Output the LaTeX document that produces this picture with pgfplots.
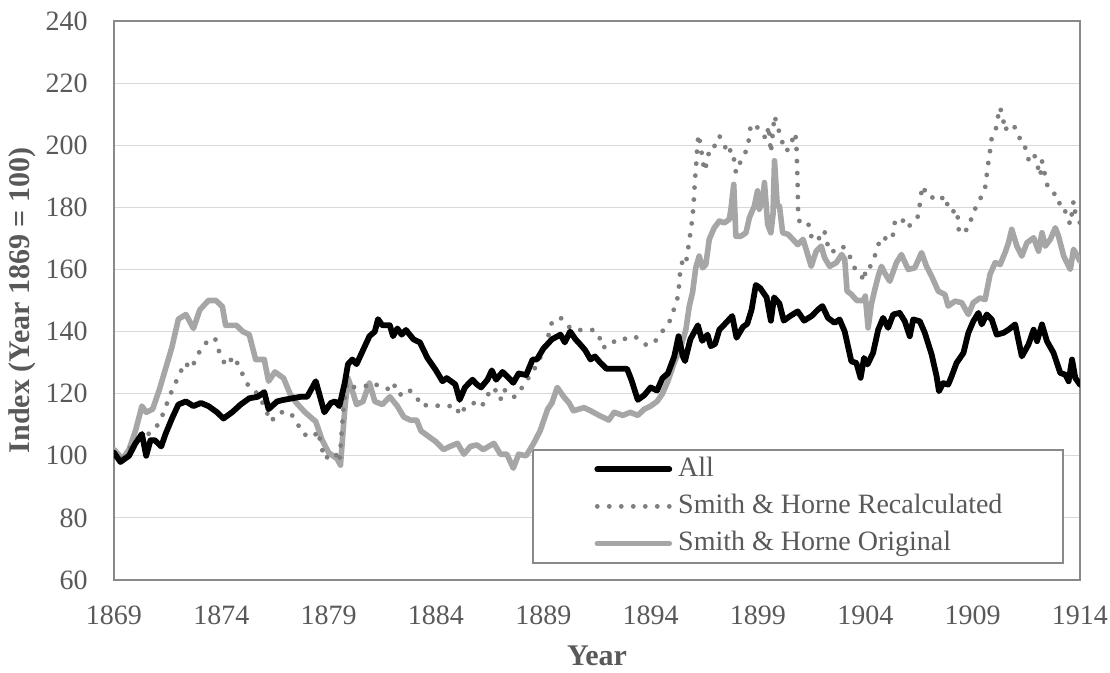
\documentclass[border=0pt]{standalone}
\usepackage{fontspec}
\setmainfont{Liberation Serif}
\usepackage{pgfplots}
\pgfplotsset{compat=1.18}
\definecolor{txtgray}{HTML}{595959}
\definecolor{bordergray}{HTML}{898989}
\definecolor{gridgray}{HTML}{D9D9D9}
\definecolor{origgray}{HTML}{A6A6A6}
\definecolor{dotgray}{HTML}{7F7F7F}
\begin{document}
\begin{tikzpicture}
\useasboundingbox (-57pt,-46.5pt) rectangle (498pt,290pt);
\begin{axis}[
  at={(0pt,0pt)}, anchor=south west,
  scale only axis, width=483pt, height=279.5pt,
  xmin=1869, xmax=1914, ymin=60, ymax=240,
  xtick={1869,1874,1879,1884,1889,1894,1899,1904,1909,1914},
  xticklabels={1869,1874,1879,1884,1889,1894,1899,1904,1909,1914},
  ytick={60,80,...,240},
  major tick length=0pt,
  axis line style={bordergray, line width=0.7pt},
  ymajorgrids, grid style={gridgray, line width=0.6pt},
  /pgf/number format/assume math mode=true,
  /pgf/number format/1000 sep={},
  tick label style={font=\fontsize{14}{16}\selectfont, text=txtgray},
  yticklabel style={anchor=east, inner sep=0pt, xshift=-13pt},
  xticklabel style={anchor=center, inner sep=0pt, yshift=-17.5pt},
  xlabel={Year}, ylabel={Index (Year 1869 = 100)},
  label style={font=\fontsize{15}{17}\selectfont\bfseries, text=txtgray},
  xlabel style={at={(rel axis cs:0.5,0)}, anchor=center, yshift=-38pt},
  ylabel style={at={([xshift=-46pt]rel axis cs:0,0.5)}, anchor=center},
  legend style={at={(rel axis cs:0.4969,0.229)}, anchor=north west, draw=none, fill=none,
    inner sep=0pt, font=\fontsize{14}{16}\selectfont, text=txtgray, row sep=1.5pt, column sep=1pt,
    nodes={inner sep=2pt, text height=10pt, text depth=3pt}},
  legend cell align=left,
  reverse legend,
  legend image code/.code={\draw[#1] (0pt,0pt) -- (36pt,0pt);},
]
\fill[white] (rel axis cs:0.4337,0.0304) rectangle (rel axis cs:0.9824,0.2326);
\draw[bordergray, line width=0.7pt] (rel axis cs:0.4337,0.0304) rectangle (rel axis cs:0.9824,0.2326);
% Smith & Horne Original
\addplot[origgray, line width=2.8pt, line join=round, line cap=round] coordinates {
(1869.0,102) (1869.4,99) (1869.7,102) (1870.0,108) (1870.3,116) (1870.5,114) (1870.8,115)
(1871.1,121) (1871.4,128) (1871.7,135) (1872.0,144) (1872.35,145.5) (1872.7,141) (1873.0,147)
(1873.4,150) (1873.75,150) (1874.05,148) (1874.2,142) (1874.7,142) (1875.0,140) (1875.3,139)
(1875.6,131) (1876.0,131) (1876.2,124) (1876.5,127) (1876.9,125) (1877.2,120) (1877.5,117)
(1877.9,114) (1878.4,111) (1878.7,105) (1879.0,101) (1879.4,99) (1879.55,97) (1879.75,115)
(1879.9,125) (1880.1,121) (1880.3,116.5) (1880.6,117.5) (1880.9,123.5) (1881.15,117.5)
(1881.5,116.5) (1881.85,119) (1882.2,116) (1882.5,112.5) (1882.8,111.5) (1883.1,111.5)
(1883.3,108) (1883.7,106) (1884.0,104.5) (1884.35,102) (1884.65,103) (1885.0,104)
(1885.3,100.5) (1885.6,103) (1885.9,103.5) (1886.2,102) (1886.7,104) (1887.0,100.5)
(1887.3,100.5) (1887.6,96) (1887.85,100.5) (1888.2,100) (1888.55,104) (1888.85,108)
(1889.2,115) (1889.4,117) (1889.65,122) (1889.95,119) (1890.2,117) (1890.4,114.5)
(1890.9,115.5) (1891.2,114.5) (1891.6,113) (1892.05,111.5) (1892.3,114) (1892.7,113)
(1893.05,114) (1893.4,113) (1893.7,115) (1894.0,116) (1894.3,117.5) (1894.55,120)
(1894.8,124) (1895.1,130) (1895.4,135) (1895.64,140.6) (1895.8,148.2) (1895.95,152.5)
(1896.1,160.5) (1896.26,164.3) (1896.42,160.5) (1896.57,161.6) (1896.73,169.7) (1896.96,173.4)
(1897.2,175.6) (1897.43,175) (1897.66,176.1) (1897.74,179.4) (1897.87,187.4) (1897.97,170.7)
(1898.2,170.7) (1898.44,171.8) (1898.6,176.7) (1898.83,180.4) (1898.98,185.3) (1899.06,179.4)
(1899.22,182) (1899.3,188) (1899.45,174.5) (1899.6,171.8) (1899.7,177.7) (1899.77,195)
(1899.9,180.4) (1900.0,180.4) (1900.15,171.8) (1900.4,171.3) (1900.62,169.7) (1900.85,168)
(1901.1,169.7) (1901.24,166.5) (1901.48,161) (1901.71,165.9) (1901.95,167.5) (1902.1,163.8)
(1902.34,161) (1902.65,162.2) (1902.9,164.8) (1903.04,163.2) (1903.15,153) (1903.35,152)
(1903.6,150) (1903.9,150) (1904.0,151.4) (1904.13,141.2) (1904.28,148.7) (1904.44,153.5)
(1904.6,157.8) (1904.75,161) (1904.9,158.9) (1905.14,156.2) (1905.45,162.2) (1905.68,164.8)
(1906.0,160) (1906.3,160.5) (1906.62,165.4) (1906.85,161) (1907.09,157.8) (1907.4,153)
(1907.71,151.9) (1907.86,148.2) (1908.18,149.8) (1908.49,149.3) (1908.8,145.5) (1909.03,149.3)
(1909.34,150.8) (1909.58,150.3) (1909.81,158.4) (1910.05,162.2) (1910.28,161.6) (1910.51,165.4)
(1910.67,168.6) (1910.82,172.9) (1911.06,167.5) (1911.29,164.3) (1911.53,168.6) (1911.84,170.2)
(1912.07,165.9) (1912.23,171.8) (1912.38,167.5) (1912.62,169.7) (1912.85,173.4) (1913.0,170.7)
(1913.24,164.3) (1913.55,160) (1913.7,166.5) (1914.0,162.7)
};
\addlegendentry{Smith \& Horne Original}
% Smith & Horne Recalculated
\addplot[dotgray, line width=2.4pt, line cap=round, dash pattern=on 0pt off 6pt] coordinates {
(1869.0,101) (1869.4,99) (1870.0,105) (1870.3,106) (1870.6,107) (1870.95,109) (1871.2,112)
(1871.5,117.5) (1871.7,121) (1872.0,125.5) (1872.3,130) (1872.6,128) (1872.9,132.5) (1873.2,136)
(1873.7,138) (1873.9,133.5) (1874.2,129) (1874.6,132) (1874.9,127.5) (1875.3,122) (1875.7,120)
(1876.0,116) (1876.3,111) (1876.7,114) (1877.2,114) (1877.5,111) (1877.8,107) (1878.3,106)
(1878.5,108) (1878.8,99) (1879.3,101) (1879.5,98) (1879.7,116) (1879.85,123.5) (1880.1,122)
(1880.45,122.5) (1880.75,122.5) (1881.1,123.5) (1881.4,122) (1881.8,121.5) (1882.0,123.5)
(1882.3,119.5) (1882.7,121.5) (1883.1,119) (1883.3,116) (1883.7,116.5) (1884.2,116)
(1884.65,116) (1884.95,116) (1885.1,113) (1885.35,115.5) (1885.7,116.5) (1885.9,118)
(1886.2,116.5) (1886.45,120) (1886.7,122) (1887.0,118) (1887.15,121.5) (1887.5,119)
(1887.7,119) (1887.95,121.5) (1888.2,123.5) (1888.4,126.5) (1888.7,129) (1889.0,134)
(1889.25,139) (1889.4,143) (1889.8,144.5) (1890.1,142) (1890.4,140.5) (1890.9,140.5)
(1891.3,140.5) (1891.6,139) (1891.7,135) (1892.05,135) (1892.4,137.5) (1892.75,137.5)
(1893.07,138.5) (1893.4,138) (1893.77,135.8) (1894.08,135.8) (1894.4,138.5) (1894.7,141.7)
(1894.94,143.9) (1895.1,147.6) (1895.25,150.8) (1895.33,155.2) (1895.37,158.9) (1895.48,162.7)
(1895.64,161.6) (1895.7,164.8) (1895.8,169.1) (1895.87,172.9) (1895.95,176.7) (1896.0,181)
(1896.03,184.7) (1896.06,188.5) (1896.1,191.7) (1896.18,200.3) (1896.23,203.5) (1896.34,199.2)
(1896.42,195.5) (1896.5,191.7) (1896.65,195) (1896.73,198.7) (1896.88,198.7) (1897.12,201.4)
(1897.2,203) (1897.43,200.3) (1897.58,197.1) (1897.74,198.7) (1897.9,195) (1897.97,191.2)
(1898.13,193.9) (1898.29,196) (1898.52,199.2) (1898.67,206.8) (1898.9,206.2) (1899.14,204.6)
(1899.38,201.9) (1899.5,206.2) (1899.6,197.6) (1899.7,204.6) (1899.77,209.5) (1899.92,205.7)
(1900.08,202.5) (1900.23,198.2) (1900.47,198.7) (1900.7,204) (1900.78,202) (1900.82,193.9)
(1900.85,186.3) (1900.87,178.3) (1900.93,175.6) (1901.16,176.1) (1901.4,174) (1901.48,170.7)
(1901.71,171.8) (1901.87,169.7) (1902.1,172.3) (1902.18,169.1) (1902.41,165.4) (1902.65,166.5)
(1902.96,167.5) (1903.04,165.9) (1903.27,164.3) (1903.5,160.5) (1903.82,157.8) (1903.97,156.2)
(1904.0,160.5) (1904.2,160.5) (1904.44,164.3) (1904.6,168) (1904.83,170.7) (1905.06,169.1)
(1905.3,171.3) (1905.37,175) (1905.68,176.7) (1905.92,173.4) (1906.23,175) (1906.46,177.2)
(1906.54,181) (1906.62,185.3) (1906.7,186.9) (1906.85,183.7) (1907.16,183.1) (1907.4,182)
(1907.71,183.7) (1907.86,179.9) (1908.02,178.3) (1908.25,179.4) (1908.33,175.6) (1908.36,171.8)
(1908.57,171.8) (1908.88,174) (1908.96,177.7) (1909.19,180.4) (1909.42,183.7) (1909.58,186.3)
(1909.66,190.6) (1909.73,194.4) (1909.81,198.2) (1909.89,202.5) (1910.05,204.6) (1910.12,206.2)
(1910.2,210) (1910.28,212.2) (1910.43,207.9) (1910.51,204.6) (1910.67,206.8) (1910.98,205.7)
(1911.14,203.5) (1911.29,199.8) (1911.45,199.2) (1911.6,195.5) (1911.84,197.6) (1912.0,193.9)
(1912.15,190.1) (1912.23,194.9) (1912.46,187.4) (1912.7,184.5) (1912.93,184.2) (1913.08,180.4)
(1913.24,180.4) (1913.4,176.7) (1913.55,174.5) (1913.7,182) (1913.78,178.3) (1914.0,175)
};
\addlegendentry{Smith \& Horne Recalculated}
% All
\addplot[black, line width=2.9pt, line join=round, line cap=round] coordinates {
(1869.0,101) (1869.3,98) (1869.7,100) (1870.0,104) (1870.3,107) (1870.5,100) (1870.7,105)
(1870.9,105) (1871.2,103) (1871.4,107) (1871.7,112) (1872.0,116.5) (1872.35,117.5) (1872.7,116)
(1873.05,117) (1873.4,116) (1873.8,114) (1874.1,112) (1874.5,114) (1874.9,116.5) (1875.3,118.5)
(1875.7,119) (1876.0,120.5) (1876.2,115) (1876.6,117.5) (1876.9,118) (1877.3,118.5) (1877.7,119)
(1878.0,119) (1878.4,124) (1878.6,119) (1878.8,114) (1879.1,117) (1879.3,117.5) (1879.5,116)
(1879.75,123.5) (1879.9,129.5) (1880.1,131) (1880.3,129.5) (1880.6,134) (1880.9,138.5)
(1881.15,140) (1881.3,144) (1881.5,142) (1881.85,142) (1882.0,138.5) (1882.2,141) (1882.4,139)
(1882.6,140.5) (1882.95,137.5) (1883.25,136.5) (1883.6,131.5) (1884.0,127.5) (1884.3,124)
(1884.5,125) (1884.9,123) (1885.1,118) (1885.35,122) (1885.7,124.5) (1885.9,123) (1886.1,122)
(1886.4,124.5) (1886.6,127.5) (1886.8,124.5) (1887.1,127) (1887.4,125) (1887.6,123.5)
(1887.85,126.5) (1888.2,126) (1888.5,131) (1888.7,131) (1889.0,134.5) (1889.4,137.5)
(1889.8,139) (1890.0,136.5) (1890.25,140) (1890.5,137.5) (1890.7,136) (1890.95,134) (1891.2,131)
(1891.4,132) (1891.65,130) (1891.95,128) (1892.3,128) (1892.6,128) (1892.9,128) (1893.1,124.5)
(1893.4,118) (1893.7,119.5) (1894.0,122) (1894.3,121) (1894.55,125) (1894.8,126.5) (1895.1,132)
(1895.3,138.5) (1895.5,132) (1895.6,130.5) (1895.85,137.5) (1896.2,142) (1896.4,137)
(1896.65,139) (1896.8,135.3) (1897.0,136) (1897.2,140.6) (1897.4,142) (1897.6,143.5)
(1897.8,145) (1898.0,138) (1898.3,141.5) (1898.5,142.5) (1898.7,147) (1898.9,155) (1899.1,154)
(1899.4,151) (1899.6,143.5) (1899.75,151) (1900.0,149) (1900.2,143.5) (1900.5,145)
(1900.85,146.5) (1901.15,143.5) (1901.5,145) (1901.8,147.1) (1902.0,148.2) (1902.26,144.4)
(1902.57,142.8) (1902.8,143.9) (1903.04,140) (1903.2,135) (1903.35,130.4) (1903.58,129.9)
(1903.78,125.1) (1903.94,131.5) (1904.1,129.4) (1904.36,133.1) (1904.6,140.6) (1904.83,144.4)
(1905.06,141.2) (1905.3,145.5) (1905.6,146) (1905.84,143.3) (1906.07,138.5) (1906.23,143.9)
(1906.54,143.3) (1906.77,139.6) (1907.09,132.6) (1907.32,125.6) (1907.43,120.8) (1907.63,123.4)
(1907.86,122.9) (1908.02,125.6) (1908.25,129.9) (1908.57,133.1) (1908.8,139.6) (1909.03,143.3)
(1909.27,146) (1909.42,142.3) (1909.66,145.5) (1909.89,143.9) (1910.12,139) (1910.44,139.6)
(1910.67,140.6) (1910.98,142.3) (1911.29,132) (1911.6,135.8) (1911.84,140.6) (1912.0,136.9)
(1912.23,142.3) (1912.46,136.9) (1912.77,133.1) (1913.08,126.7) (1913.32,126.1) (1913.47,124)
(1913.63,131) (1913.78,125.1) (1914.0,122.9)
};
\addlegendentry{All}
\end{axis}
\end{tikzpicture}
\end{document}
